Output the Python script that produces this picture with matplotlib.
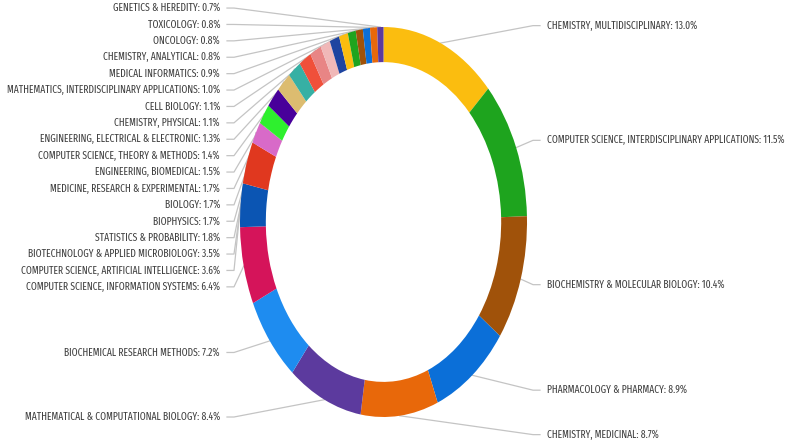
import numpy as np
import matplotlib
matplotlib.use("Agg")
import matplotlib.pyplot as plt
from matplotlib import font_manager

# subjects, clockwise from 12 o'clock
categories = [
    "CHEMISTRY, MULTIDISCIPLINARY", "COMPUTER SCIENCE, INTERDISCIPLINARY APPLICATIONS",
    "BIOCHEMISTRY & MOLECULAR BIOLOGY", "PHARMACOLOGY & PHARMACY", "CHEMISTRY, MEDICINAL",
    "MATHEMATICAL & COMPUTATIONAL BIOLOGY", "BIOCHEMICAL RESEARCH METHODS",
    "COMPUTER SCIENCE, INFORMATION SYSTEMS", "COMPUTER SCIENCE, ARTIFICIAL INTELLIGENCE",
    "BIOTECHNOLOGY & APPLIED MICROBIOLOGY", "STATISTICS & PROBABILITY", "BIOPHYSICS",
    "BIOLOGY", "MEDICINE, RESEARCH & EXPERIMENTAL", "ENGINEERING, BIOMEDICAL",
    "COMPUTER SCIENCE, THEORY & METHODS", "ENGINEERING, ELECTRICAL & ELECTRONIC",
    "CHEMISTRY, PHYSICAL", "CELL BIOLOGY", "MATHEMATICS, INTERDISCIPLINARY APPLICATIONS",
    "MEDICAL INFORMATICS", "CHEMISTRY, ANALYTICAL", "ONCOLOGY", "TOXICOLOGY",
    "GENETICS & HEREDITY",
]
shares = [13.0, 11.5, 10.4, 8.9, 8.7, 8.4, 7.2, 6.4, 3.6, 3.5, 1.8, 1.7, 1.7, 1.7,
          1.5, 1.4, 1.3, 1.1, 1.1, 1.0, 0.9, 0.8, 0.8, 0.8, 0.7]
colors = ["#fbbd0f", "#1ea41e", "#a0520a", "#0b6fd8", "#e8680a", "#5c3a9e",
          "#1e8cf0", "#d5145a", "#0b55b3", "#e0381f", "#d86ac8", "#2ef02e",
          "#48009a", "#dcbc70", "#36b0a4", "#f0503a", "#e88585", "#f0b8b8",
          "#1e44a0", "#fbbd0f", "#1ea41e", "#a0520a", "#0b6fd8", "#e8680a", "#5c3a9e"]

# pick a narrow font if there is one
names = {f.name for f in font_manager.fontManager.ttflist}
font = "Liberation Sans"
for cand in ["Fira Sans Extra Condensed", "Fira Sans Condensed", "Roboto Condensed",
             "Liberation Sans Narrow"]:
    if cand in names:
        font = cand
        break
plt.rcParams["font.family"] = [font, "DejaVu Sans"]

W, H = 796, 444
cx, cy = 383.5, 222.0   # ring centre in pixels (y from top)
rx, ry = 143.5, 195.0   # pixels per unit radius (chart is squashed sideways)

fig = plt.figure(figsize=(W / 100, H / 100), dpi=100)
ax = fig.add_axes([0, 0, 1, 1])
ax.pie(shares, colors=colors, startangle=90, counterclock=False, radius=1,
       wedgeprops=dict(width=0.18, linewidth=0))
ax.set_aspect("auto")
ax.set_xlim(-cx / rx, (W - cx) / rx)
ax.set_ylim(-(H - cy) / ry, cy / ry)
ax.axis("off")

def px(x, y):
    return (x - cx) / rx, (cy - y) / ry

total = sum(shares)
mid = (np.cumsum(shares) - np.array(shares) / 2) / total * 2 * np.pi

# fit font size so the longest labels keep inside the picture
r = fig.canvas.get_renderer()
fs = 99
for s, width in [("COMPUTER SCIENCE, INTERDISCIPLINARY APPLICATIONS: 11.5%", 243),
                 ("MATHEMATICS, INTERDISCIPLINARY APPLICATIONS: 1.0%", 213)]:
    probe = ax.text(0, 0, s, fontsize=10)
    fs = min(fs, 10 * width / probe.get_window_extent(r).width)
    probe.remove()

left_x, right_x = 220, 547
spacing = 16.4
left, right = [], []
for i, th in enumerate(mid):
    ny = cy - 214 * np.cos(th)
    (right if np.sin(th) > 0 else left).append([ny, i])

left.sort()
prev = 7.3 - spacing
for item in left:
    item[0] = max(item[0], prev + spacing)
    prev = item[0]

for side, items in (("L", left), ("R", right)):
    for ly, i in items:
        th = mid[i]
        ex, ey = cx + rx * np.sin(th), cy - ry * np.cos(th)
        txt = f"{categories[i]}: {shares[i]:.1f}%"
        if side == "L":
            pts = [(left_x + 7, ly), (left_x + 14, ly), (ex, ey)]
            ax.text(*px(left_x, ly), txt, ha="right", va="center", fontsize=fs, color="#404040")
        else:
            pts = [(right_x - 7, ly), (right_x - 14, ly), (ex, ey)]
            ax.text(*px(right_x, ly), txt, ha="left", va="center", fontsize=fs, color="#404040")
        xs, ys = zip(*[px(a, b) for a, b in pts])
        ax.plot(xs, ys, color="#c4c4c4", lw=0.9, zorder=0)

fig.savefig("out.png", dpi=100)
